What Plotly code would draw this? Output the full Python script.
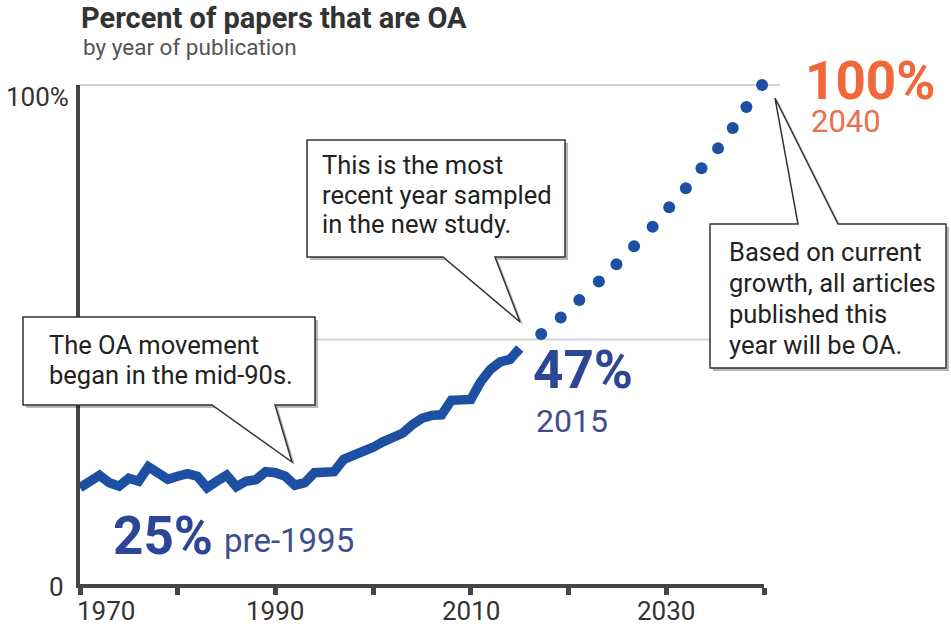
import plotly.graph_objects as go

# ---- data ----
years = list(range(1970, 2016))
oa_pct = [19.3, 20.5, 21.8, 20.3, 19.6, 21.2, 20.6, 23.5, 22.3, 21.0,
          21.6, 22.1, 21.6, 19.3, 20.6, 21.8, 19.5, 20.6, 20.9, 22.5,
          22.3, 21.6, 19.8, 20.3, 22.3, 22.2, 22.5, 25.0, 25.8, 26.3,
          27.4, 28.5, 29.3, 30.2, 31.9, 33.2, 33.8, 33.9, 36.8, 36.8,
          37.0, 40.5, 43.0, 44.5, 45.0, 47.2]

proj_years = [2017.2, 2019.2, 2021.1, 2023.1, 2024.9, 2026.7, 2028.6,
              2030.3, 2032.0, 2033.6, 2035.3, 2036.8, 2038.2, 2039.8]
proj_pct = [50.1, 53.4, 56.9, 60.6, 64.1, 67.7, 71.6,
            75.5, 79.3, 83.3, 87.3, 91.4, 95.6, 100.0]

x_tick_vals = [1970, 1980, 1990, 2000, 2010, 2020, 2030, 2040]
x_tick_text = ["1970", "", "1990", "", "2010", "", "2030", ""]
grid_vals = [100, 49]

BLUE = "#1d4fa3"
DARK_BLUE = "#2b4597"
MUTED_BLUE = "#3f4f8e"
ORANGE = "#f0673a"
ORANGE_LIGHT = "#e8704a"
AXIS = "#454545"
FONT = "Roboto"

FIG_W, FIG_H = 951, 629
L, R, T, B = 80, 187, 85, 45
PW, PH = FIG_W - L - R, FIG_H - T - B


def px(x):
    return (x - L) / PW


def py(y):
    return (FIG_H - B - y) / PH


def path(points, dx=0, dy=0):
    return "M " + " L ".join(f"{px(x + dx):.4f},{py(y + dy):.4f}" for x, y in points) + " Z"


fig = go.Figure()
fig.add_trace(go.Scatter(x=years, y=oa_pct, mode="lines",
                         line=dict(color=BLUE, width=9.5), hoverinfo="skip"))
fig.add_trace(go.Scatter(x=proj_years, y=proj_pct, mode="markers",
                         marker=dict(color=BLUE, size=12), cliponaxis=False,
                         hoverinfo="skip"))

shapes = []
for g in grid_vals:
    shapes.append(dict(type="line", xref="paper", yref="paper",
                       x0=0, x1=(px(780) if g == 100 else 1.0),
                       y0=g / 100, y1=g / 100,
                       line=dict(color="#d4d4d4", width=2), layer="below"))

callouts = [
    dict(pts=[(23, 317), (315, 317), (315, 405), (275, 405), (292, 462), (212, 405), (23, 405)],
         lines=["The OA movement", "began in the mid-90s."], tx=47, ys=[345, 375]),
    dict(pts=[(307, 140), (565, 140), (565, 257), (495, 257), (520, 322), (443, 257), (307, 257)],
         lines=["This is the most", "recent year sampled", "in the new study."], tx=320,
         ys=[165, 195, 224]),
    dict(pts=[(710, 224), (798, 224), (775, 98), (838, 224), (946, 224), (946, 368), (710, 368)],
         lines=["Based on current", "growth, all articles", "published this", "year will be OA."],
         tx=727, ys=[252, 283, 314, 345]),
]
annotations = []
for c in callouts:
    shapes.append(dict(type="path", xref="paper", yref="paper", path=path(c["pts"], 3, 3),
                       fillcolor="rgba(0,0,0,0.28)", line=dict(width=0), layer="above"))
    shapes.append(dict(type="path", xref="paper", yref="paper", path=path(c["pts"]),
                       fillcolor="white", line=dict(color="#333333", width=1.5), layer="above"))
    for line_text, ly in zip(c["lines"], c["ys"]):
        annotations.append(dict(xref="paper", yref="paper", x=px(c["tx"]), y=py(ly),
                                xanchor="left", yanchor="middle", align="left", showarrow=False,
                                text=line_text, font=dict(family=FONT, size=25.5, color="#222222")))

labels = [
    ("<b>25%</b>", 111, 536, 53, DARK_BLUE),
    ("pre-1995", 222, 540, 33, MUTED_BLUE),
    ("<b>47%</b>", 531, 370, 53, DARK_BLUE),
    ("2015", 534, 421, 32, MUTED_BLUE),
    ("<b>100%</b>", 803, 81, 53, ORANGE),
    ("2040", 809, 122, 31, ORANGE_LIGHT),
    ("<b>Percent of papers that are OA</b>", 79, 18, 29, "#333333"),
    ("by year of publication", 81, 47, 22.5, "#555555"),
]
for text, x, y, size, color in labels:
    annotations.append(dict(xref="paper", yref="paper", x=px(x), y=py(y),
                            xanchor="left", yanchor="middle", showarrow=False,
                            text=text, font=dict(family=FONT, size=size, color=color)))
for text, x, y in [("100%", 71, 97), ("0", 66, 587)]:
    annotations.append(dict(xref="paper", yref="paper", x=px(x), y=py(y),
                            xanchor="right", yanchor="middle", showarrow=False,
                            text=text, font=dict(family=FONT, size=26, color="#333333")))
# x tick labels (1970 sits right of its tick, as in the original)
for val, txt in zip(x_tick_vals, x_tick_text):
    if not txt:
        continue
    first = val == x_tick_vals[0]
    annotations.append(dict(xref="x", yref="paper", x=val, y=py(611),
                            xanchor="left" if first else "center", yanchor="middle",
                            xshift=-5 if first else 0, showarrow=False, text=txt,
                            font=dict(family=FONT, size=26, color="#333333")))

fig.update_layout(
    width=FIG_W, height=FIG_H,
    margin=dict(l=L, r=R, t=T, b=B, autoexpand=False),
    paper_bgcolor="white", plot_bgcolor="white",
    showlegend=False,
    shapes=shapes, annotations=annotations,
    xaxis=dict(range=[1970, 2040], tickvals=x_tick_vals, ticktext=[""] * len(x_tick_vals),
               automargin=False,
               showgrid=False, zeroline=False, showline=True, linecolor=AXIS, linewidth=4,
               ticks="outside", ticklen=7, tickwidth=5, tickcolor=AXIS),
    yaxis=dict(range=[0, 100], automargin=False, showgrid=False, zeroline=False, showline=True,
               linecolor=AXIS, linewidth=4, showticklabels=False, ticks=""),
)

POST = ("document.documentElement.style.margin='0';document.body.style.margin='0';"
        "document.body.style.padding='0';")

fig.write_html("out.html", config={"displayModeBar": False}, post_script=POST)
